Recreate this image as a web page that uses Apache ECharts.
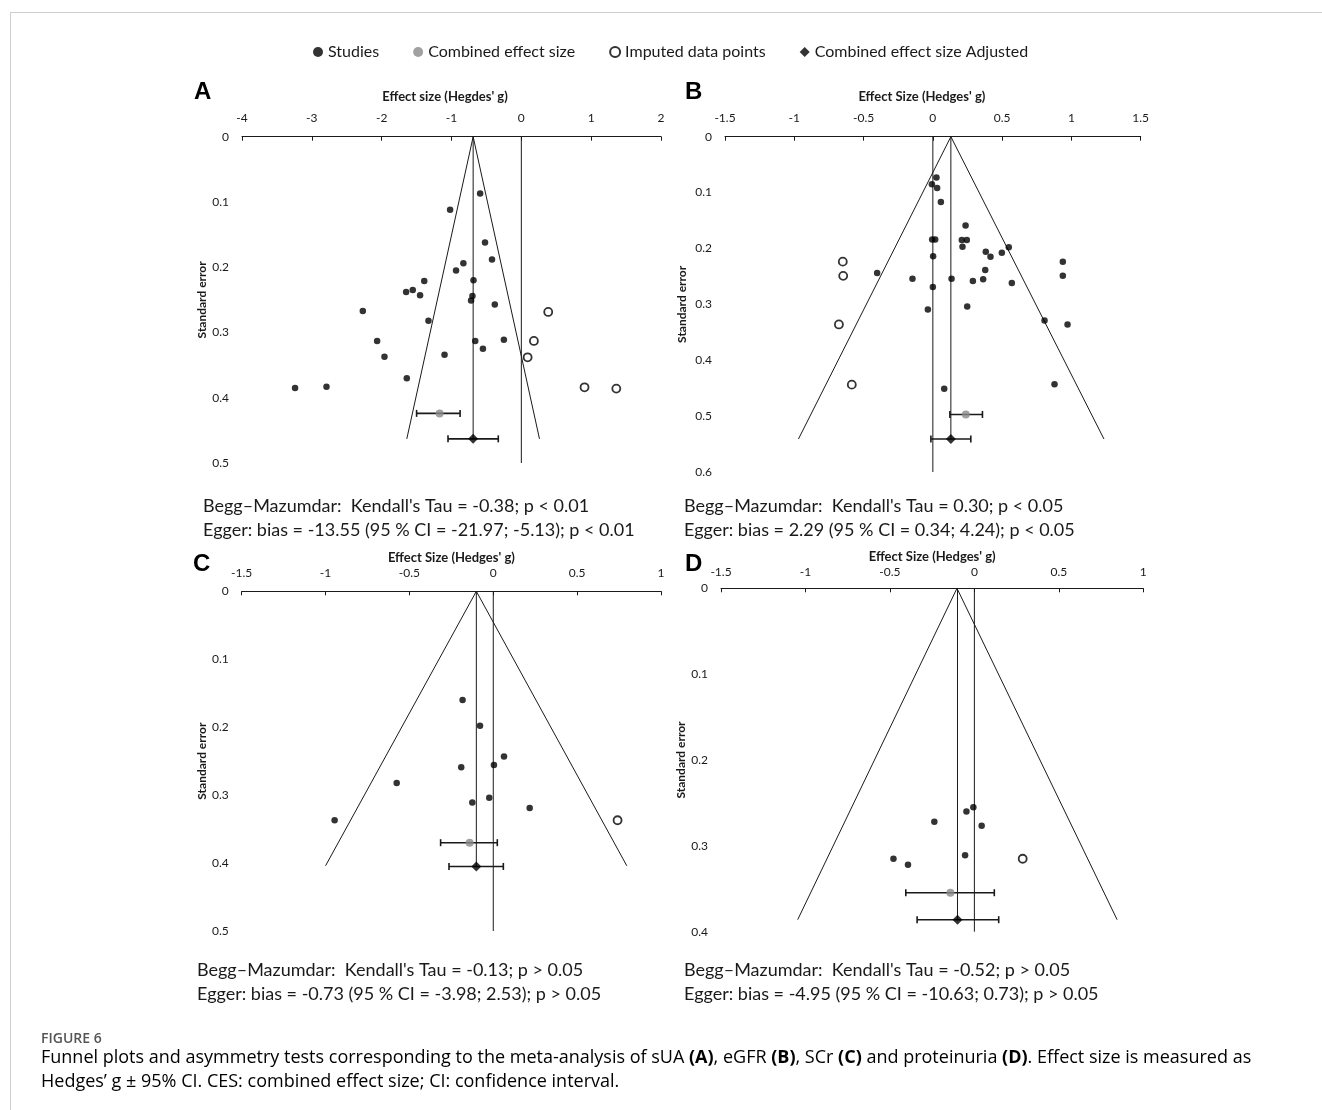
<!DOCTYPE html>
<html><head><meta charset="utf-8">
<script src="https://cdn.jsdelivr.net/npm/echarts@6/dist/echarts.min.js"></script>
<style>html,body{margin:0;padding:0;background:#fff}#c{width:1322px;height:1110px}</style>
</head><body><div id="c"></div>
<script>
// ---------------- DATA ----------------
const panelLetters = ['A', 'B', 'C', 'D'];
const xAxisTitles = ["Effect size (Hegdes' g)", "Effect Size (Hedges' g)", "Effect Size (Hedges' g)", "Effect Size (Hedges' g)"];
const yAxisTitle = 'Standard error';
const xMin = [-4, -1.5, -1.5, -1.5];
const xMax = [2, 1.5, 1, 1];
const xStep = [1, 0.5, 0.5, 0.5];
const yMax = [0.5, 0.6, 0.5, 0.4];
const yStep = [0.1, 0.1, 0.1, 0.1];
const legendNames = ['Studies', 'Combined effect size', 'Imputed data points', 'Combined effect size Adjusted'];

// [effect size, standard error]
const studiesA = [[-0.59,0.087],[-1.02,0.112],[-0.52,0.162],[-0.42,0.188],[-0.83,0.194],[-0.935,0.205],[-0.685,0.220],[-1.39,0.221],[-1.65,0.238],[-1.555,0.235],[-1.45,0.243],[-0.70,0.244],[-0.72,0.251],[-0.38,0.257],[-2.27,0.267],[-1.33,0.282],[-2.065,0.313],[-0.66,0.313],[-0.25,0.311],[-0.55,0.325],[-1.96,0.337],[-1.10,0.334],[-1.64,0.370],[-3.24,0.385],[-2.79,0.383]];
const imputedA = [[0.385,0.2685],[0.18,0.313],[0.09,0.338],[0.905,0.384],[1.36,0.386]];
const funnelA = [[-1.64,0.463],[-0.69,0],[0.26,0.463]];
// [effect, se, ci low, ci high]
const combinedA = [[-1.17,0.424,-1.50,-0.877]];
const adjustedA = [[-0.69,0.463,-1.05,-0.33]];

const studiesB = [[0.026,0.073],[-0.007,0.085],[0.031,0.092],[0.058,0.117],[0.236,0.159],[-0.005,0.184],[0.017,0.184],[0.209,0.185],[0.245,0.185],[0.214,0.197],[0.548,0.198],[0.382,0.206],[0.498,0.2075],[0.416,0.215],[0.002,0.214],[0.938,0.2236],[0.378,0.2385],[-0.402,0.244],[0.938,0.249],[-0.147,0.254],[0.135,0.254],[0.363,0.255],[0.289,0.258],[0.570,0.262],[0.0,0.269],[0.248,0.304],[-0.036,0.309],[0.806,0.329],[0.972,0.336],[0.878,0.443],[0.082,0.451]];
const imputedB = [[-0.650,0.2236],[-0.647,0.249],[-0.678,0.336],[-0.585,0.4437]];
const funnelB = [[-0.97,0.541],[0.13,0],[1.235,0.541]];
const combinedB = [[0.238,0.497,0.123,0.358]];
const adjustedB = [[0.13,0.541,-0.014,0.274]];

const studiesC = [[-0.183,0.160],[-0.079,0.198],[0.064,0.243],[0.004,0.2556],[-0.191,0.259],[-0.576,0.282],[-0.024,0.304],[-0.125,0.311],[0.217,0.319],[-0.946,0.337]];
const imputedC = [[0.741,0.337]];
const funnelC = [[-1.0,0.404],[-0.101,0],[0.796,0.404]];
const combinedC = [[-0.141,0.370,-0.314,0.024]];
const adjustedC = [[-0.101,0.405,-0.264,0.060]];

const studiesD = [[-0.006,0.255],[-0.047,0.260],[-0.237,0.272],[0.043,0.2765],[-0.055,0.311],[-0.479,0.315],[-0.393,0.322]];
const imputedD = [[0.286,0.315]];
const funnelD = [[-1.046,0.386],[-0.103,0],[0.845,0.386]];
const combinedD = [[-0.142,0.3546,-0.406,0.118]];
const adjustedD = [[-0.10,0.386,-0.339,0.144]];

const beggText = [
  "Begg\u2013Mazumdar:  Kendall's Tau = -0.38; p < 0.01",
  "Begg\u2013Mazumdar:  Kendall's Tau = 0.30; p < 0.05",
  "Begg\u2013Mazumdar:  Kendall's Tau = -0.13; p > 0.05",
  "Begg\u2013Mazumdar:  Kendall's Tau = -0.52; p > 0.05"
];
const eggerText = [
  "Egger: bias = -13.55 (95 % CI = -21.97; -5.13); p < 0.01",
  "Egger: bias = 2.29 (95 % CI = 0.34; 4.24); p < 0.05",
  "Egger: bias = -0.73 (95 % CI = -3.98; 2.53); p > 0.05",
  "Egger: bias = -4.95 (95 % CI = -10.63; 0.73); p > 0.05"
];
const captionTitle = 'FIGURE 6';
const captionLine1 = '{n|Funnel plots and asymmetry tests corresponding to the meta-analysis of sUA }{b|(A)}{n|, eGFR }{b|(B)}{n|, SCr }{b|(C)}{n| and proteinuria }{b|(D)}{n|. Effect size is measured as}';
const captionLine2 = '{n|Hedges\u2019 g \u00b1 95% CI. CES: combined effect size; CI: confidence interval.}';

// ---------------- LAYOUT ----------------
const studies = [studiesA, studiesB, studiesC, studiesD];
const imputed = [imputedA, imputedB, imputedC, imputedD];
const funnels = [funnelA, funnelB, funnelC, funnelD];
const combined = [combinedA, combinedB, combinedC, combinedD];
const adjusted = [adjustedA, adjustedB, adjustedC, adjustedD];

const FONT = 'Lato';
const INK = '#1a1a1a';
const grids = [
  {left: 242, top: 136.7, width: 419, height: 326.3},
  {left: 725, top: 136.7, width: 415.7, height: 335.3},
  {left: 241.7, top: 591.3, width: 419.3, height: 339.7},
  {left: 721, top: 588.3, width: 422.3, height: 343.4}
];
const xNameGap = [33, 33, 27, 25];
const xNamePadR = [13, 22, 0, 0];
const xLabelMargin = [13, 13, 12, 10.5];
const yNameGap = [34, 37, 34, 33];
const letterPos = [[204, 93], [695, 93], [203, 565], [695, 565]];
const statPos = [[203, 506], [684, 506], [197, 970], [684, 970]];

function errRender(params, api) {
  const y = api.value(1);
  const p1 = api.coord([api.value(2), y]);
  const p2 = api.coord([api.value(3), y]);
  const h = 3.5;
  const st = {stroke: '#1a1a1a', lineWidth: 1.6};
  return {type: 'group', children: [
    {type: 'line', shape: {x1: p1[0], y1: p1[1], x2: p2[0], y2: p2[1]}, style: st},
    {type: 'line', shape: {x1: p1[0], y1: p1[1] - h, x2: p1[0], y2: p1[1] + h}, style: st},
    {type: 'line', shape: {x1: p2[0], y1: p2[1] - h, x2: p2[0], y2: p2[1] + h}, style: st}
  ]};
}

const xAxes = [], yAxes = [], series = [], graphics = [];
for (let i = 0; i < 4; i++) {
  xAxes.push({
    gridIndex: i, type: 'value', position: 'top', min: xMin[i], max: xMax[i], interval: xStep[i],
    axisLine: {show: true, onZero: false, lineStyle: {color: INK, width: 1}},
    axisTick: {show: true, inside: true, length: 4, lineStyle: {color: INK}},
    axisLabel: {margin: xLabelMargin[i], fontSize: 12, color: INK, fontFamily: FONT},
    splitLine: {show: false},
    name: xAxisTitles[i], nameLocation: 'middle', nameGap: xNameGap[i],
    nameTextStyle: {fontFamily: FONT, fontWeight: 'bold', fontSize: 13, color: INK, padding: [0, xNamePadR[i], 0, 0]}
  });
  yAxes.push({
    gridIndex: i, type: 'value', inverse: true, min: 0, max: yMax[i], interval: yStep[i],
    axisLine: {show: false}, axisTick: {show: false}, splitLine: {show: false},
    axisLabel: {margin: 13, fontSize: 12, color: INK, fontFamily: FONT},
    name: yAxisTitle, nameLocation: 'middle', nameGap: yNameGap[i], nameRotate: 90,
    nameTextStyle: {fontFamily: FONT, fontWeight: 'bold', fontSize: 12, color: INK}
  });
  const base = {xAxisIndex: i, yAxisIndex: i, animation: false, silent: true};
  const lineStyle = {color: INK, width: 1};
  series.push(Object.assign({type: 'line', data: funnels[i], symbol: 'none', lineStyle, z: 2}, base));
  series.push(Object.assign({type: 'line', data: [[adjusted[i][0][0], 0], [adjusted[i][0][0], adjusted[i][0][1]]], symbol: 'none', lineStyle, z: 2}, base));
  series.push(Object.assign({type: 'line', data: [[0, 0], [0, yMax[i]]], symbol: 'none', lineStyle, z: 2}, base));
  series.push(Object.assign({type: 'custom', renderItem: errRender, data: combined[i], encode: {x: 0, y: 1}, z: 3}, base));
  series.push(Object.assign({type: 'custom', renderItem: errRender, data: adjusted[i], encode: {x: 0, y: 1}, z: 3}, base));
  series.push(Object.assign({type: 'scatter', name: legendNames[0], data: studies[i], symbol: 'circle', symbolSize: 6.5, itemStyle: {color: '#000'}, z: 5}, base));
  series.push(Object.assign({type: 'scatter', name: legendNames[2], data: imputed[i], symbol: 'circle', symbolSize: 8, itemStyle: {color: '#fff', borderColor: '#000', borderWidth: 1.8}, z: 5}, base));
  series.push(Object.assign({type: 'scatter', name: legendNames[1], data: combined[i].map(d => [d[0], d[1]]), symbol: 'circle', symbolSize: 8, itemStyle: {color: '#8a8a8a'}, z: 6}, base));
  series.push(Object.assign({type: 'scatter', name: legendNames[3], data: adjusted[i].map(d => [d[0], d[1]]), symbol: 'diamond', symbolSize: 10, itemStyle: {color: '#000'}, z: 6}, base));

  graphics.push({type: 'text', left: letterPos[i][0] - 10, top: letterPos[i][1] - 13,
    style: {text: panelLetters[i], font: 'bold 24px "Liberation Sans"', fill: '#000'}});
  graphics.push({type: 'text', x: statPos[i][0], y: statPos[i][1],
    style: {text: beggText[i], font: '18px ' + FONT, fill: INK, textVerticalAlign: 'middle'}});
  graphics.push({type: 'text', x: statPos[i][0], y: statPos[i][1] + 24,
    style: {text: eggerText[i], font: '18px ' + FONT, fill: INK, textVerticalAlign: 'middle'}});
}

graphics.push({type: 'line', shape: {x1: 10, y1: 12.5, x2: 1322, y2: 12.5}, style: {stroke: '#cfcfcf', lineWidth: 1}});
graphics.push({type: 'line', shape: {x1: 10.5, y1: 12, x2: 10.5, y2: 1110}, style: {stroke: '#cfcfcf', lineWidth: 1}});
graphics.push({type: 'text', x: 41, y: 1039, style: {text: captionTitle, font: '600 14px "Open Sans"', fill: '#555', textVerticalAlign: 'middle'}});
const capRich = {n: {fontFamily: 'Open Sans', fontSize: 18, color: '#666'}, b: {fontFamily: 'Open Sans', fontSize: 18, fontWeight: 'bold', color: '#444'}};
graphics.push({type: 'text', x: 41, y: 1058, style: {text: captionLine1, rich: capRich, textVerticalAlign: 'middle'}});
graphics.push({type: 'text', x: 41, y: 1082, style: {text: captionLine2, rich: capRich, textVerticalAlign: 'middle'}});

const chart = echarts.init(document.getElementById('c'), null, {renderer: 'canvas'});
chart.setOption({
  animation: false,
  backgroundColor: '#fff',
  grid: grids.map(g => Object.assign({outerBoundsMode: 'none', containLabel: false}, g)),
  xAxis: xAxes, yAxis: yAxes,
  legend: {
    top: 44, left: 313, padding: 0, itemWidth: 10, itemHeight: 10, itemGap: 34, selectedMode: false,
    textStyle: {fontFamily: FONT, fontSize: 16, color: INK},
    data: [
      {name: legendNames[0], icon: 'circle', itemStyle: {color: '#000'}},
      {name: legendNames[1], icon: 'circle', itemStyle: {color: '#8a8a8a'}},
      {name: legendNames[2], icon: 'circle', itemStyle: {color: '#fff', borderColor: '#000', borderWidth: 2}},
      {name: legendNames[3], icon: 'diamond', itemStyle: {color: '#000'}}
    ]
  },
  series: series,
  graphic: graphics
});
</script></body></html>
